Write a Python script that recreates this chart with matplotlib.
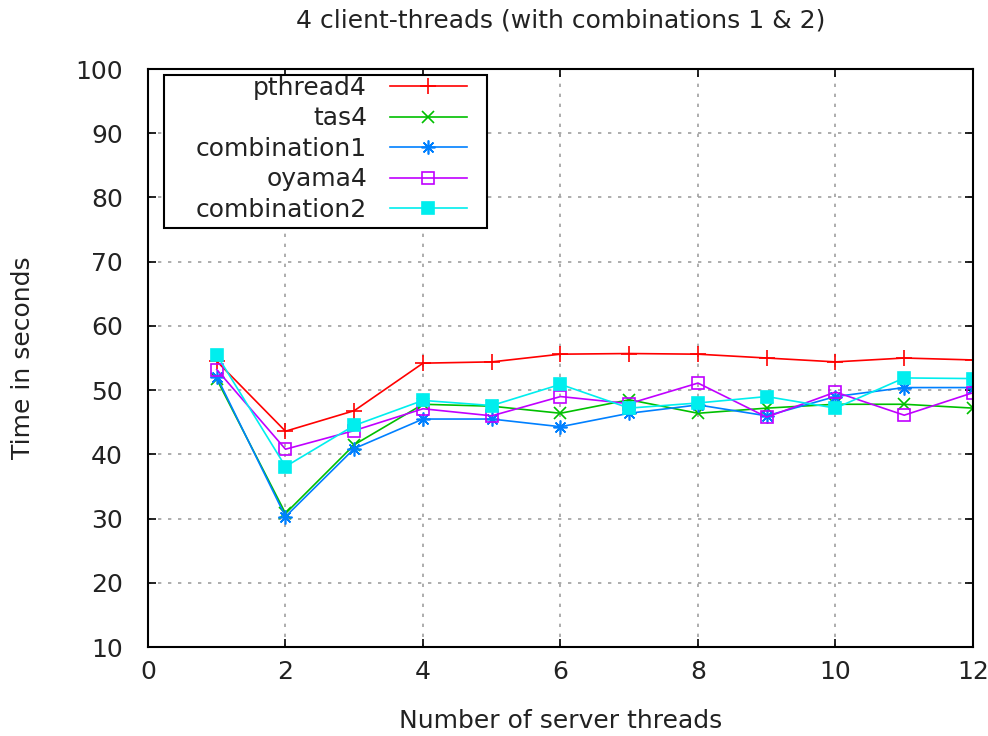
import matplotlib
matplotlib.use("Agg")
import matplotlib.pyplot as plt
from matplotlib.patches import Rectangle
from matplotlib.transforms import IdentityTransform

# server thread counts
threads = [1, 2, 3, 4, 5, 6, 7, 8, 9, 10, 11, 12]

pthread4 = [54.5, 43.6, 46.8, 54.2, 54.4, 55.6, 55.7, 55.6, 55.0, 54.4, 55.0, 54.7]
tas4 = [51.7, 30.8, 41.5, 47.8, 47.5, 46.4, 48.5, 46.4, 47.2, 47.8, 47.8, 47.2]
combination1 = [52.1, 30.3, 40.9, 45.5, 45.5, 44.3, 46.4, 47.7, 46.0, 49.0, 50.4, 50.4]
oyama4 = [53.2, 40.8, 43.7, 47.1, 46.0, 49.0, 47.9, 51.1, 45.8, 49.7, 46.1, 49.6]
combination2 = [55.5, 38.1, 44.5, 48.4, 47.6, 50.9, 47.2, 48.0, 49.0, 47.2, 51.9, 51.8]

fs = 18
txt = "#222222"

fig = plt.figure(figsize=(9.88, 7.36), dpi=100)
ax = fig.add_axes([0.1498, 0.1209, 0.835, 0.7853])

ms = 9
ax.plot(threads, pthread4, color="#ff0000", marker="+", ms=ms + 3, mew=1.2, lw=1.2, label="pthread4")
ax.plot(threads, tas4, color="#00c000", marker="x", ms=ms, mew=1.2, lw=1.2, label="tas4")
ax.plot(threads, combination1, color="#0080ff", marker=(8, 2, 0), ms=ms + 1, mew=1.2, lw=1.2, label="combination1")
ax.plot(threads, oyama4, color="#c000ff", marker="s", mfc="none", ms=ms - 1, mew=1.2, lw=1.2, label="oyama4")
ax.plot(threads, combination2, color="#00eeee", marker="s", ms=ms - 1, mew=1.2, lw=1.2, label="combination2")

ax.set_xlim(0, 12)
ax.set_ylim(10, 100)
ax.set_xticks(range(0, 13, 2))
ax.set_yticks(range(10, 101, 10))
ax.grid(True, color="#a0a0a0", linestyle=(0, (2, 4)), lw=1.2)
ax.tick_params(direction="in", length=6, width=1.2, top=True, right=True,
               labelsize=fs, labelcolor=txt)
ax.tick_params(axis="x", pad=9)
ax.tick_params(axis="y", pad=18)
for sp in ax.spines.values():
    sp.set_linewidth(1.5)

ax.set_title("4 client-threads (with combinations 1 & 2)", fontsize=fs, color=txt, pad=30)
ax.set_xlabel("Number of server threads", fontsize=fs, color=txt)
ax.set_ylabel("Time in seconds", fontsize=fs, color=txt)
ax.xaxis.set_label_coords(0.5, -0.107)
ax.yaxis.set_label_coords(-0.137, 0.5)

# gnuplot style key: labels right aligned, samples on the right
leg = ax.legend(loc="upper left", bbox_to_anchor=(0.058, 0.9883), borderaxespad=0,
                markerfirst=False, frameon=False, fontsize=fs, handlelength=3.1,
                labelspacing=0.26, borderpad=0, handletextpad=0.9)
leg.set_zorder(6)
for t in leg.get_texts():
    t.set_color(txt)

# box around the key, a bit wider on the left like gnuplot draws it
fig.canvas.draw()
bb = leg.get_window_extent()
box = Rectangle((bb.x0 - 32, bb.y0 - 6), bb.width + 32 + 20, bb.height + 6 + 1,
                transform=IdentityTransform(), facecolor="white", edgecolor="black",
                lw=1.5, zorder=5)
ax.add_artist(box)

fig.savefig("out.png", dpi=100)
